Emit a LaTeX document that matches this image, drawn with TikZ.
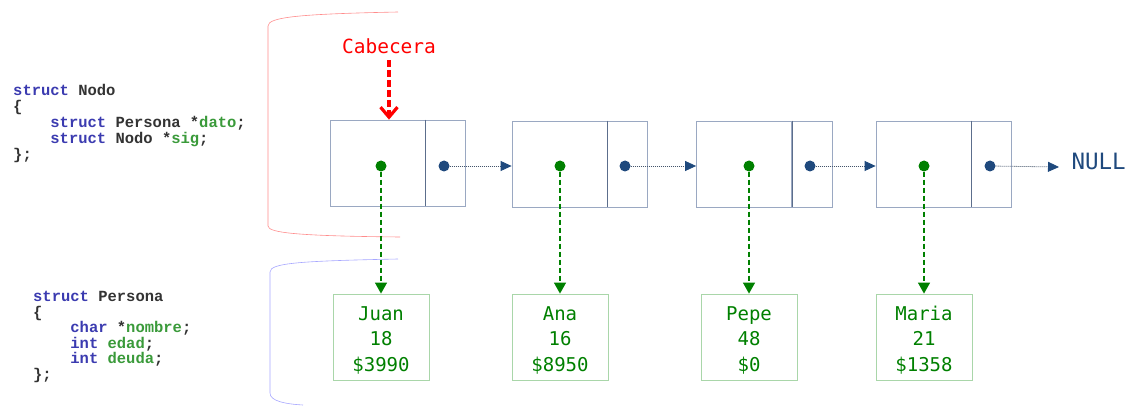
\documentclass[tikz,border=0pt]{standalone}
\usepackage{fontspec}
\setmonofont{DejaVu Sans Mono}
\newfontfamily\codefont{Liberation Mono}
\usetikzlibrary{arrows.meta,positioning}
\definecolor{boxedge}{HTML}{9AA8C2}
\definecolor{divider}{HTML}{5C6E8C}
\definecolor{navy}{HTML}{1F497D}
\definecolor{linkline}{HTML}{44546A}
\definecolor{datagreen}{HTML}{008000}
\definecolor{paleg}{HTML}{A9D6A9}
\definecolor{kwblue}{HTML}{3B3BB0}
\definecolor{fldgreen}{HTML}{3A9A3A}
\definecolor{codegray}{HTML}{333333}
\newcommand{\kw}[1]{\textcolor{kwblue}{#1}}
\newcommand{\fld}[1]{\textcolor{fldgreen}{#1}}
\newcommand{\ind}{\phantom{0000}}
\newcommand{\ficha}[3]{\raisebox{-3.5pt}[\height][\depth]{\begin{tabular}{@{}c@{}}#1\\#2\\#3\end{tabular}}}
\begin{document}
\begin{tikzpicture}[x=1pt,y=-1pt,
  datocell/.style={draw=boxedge, line width=0.8pt, minimum width=95pt, minimum height=86pt, inner sep=0pt},
  sigcell/.style={draw=boxedge, line width=0.8pt, minimum width=40pt, minimum height=86pt, inner sep=0pt},
  greendot/.style={circle, fill=datagreen, minimum size=11pt, inner sep=0pt},
  bluedot/.style={circle, fill=navy, minimum size=11pt, inner sep=0pt},
  persona/.style={draw=paleg, line width=0.8pt, minimum width=96pt, minimum height=86pt, inner sep=0pt,
    text=datagreen, font=\ttfamily\fontsize{19}{25.5}\selectfont},
  nextarrow/.style={linkline, line width=0.8pt, dash pattern=on 1pt off 1pt,
    -{Triangle[length=11pt,width=10pt,fill=navy,color=navy]}},
  datoarrow/.style={datagreen, line width=1.3pt, dash pattern=on 5pt off 3pt,
    -{Triangle[length=11pt,width=12pt]}},
  cabarrow/.style={red, line width=3.2pt, dash pattern=on 7pt off 3pt,
    -{Straight Barb[length=10pt,width=17pt]}},
  code/.style={anchor=north west, inner sep=0pt, align=left, text=codegray,
    font=\codefont\bfseries\fontsize{15.5}{16}\selectfont}]
\useasboundingbox (0,0) rectangle (1130,406);
% code of the two structs
\node[code] (nodo) at (13,84) {\kw{struct} Nodo\\
\{\\
\ind\kw{struct} Persona *\fld{dato};\\
\ind\kw{struct} Nodo *\fld{sig};\\
\};};
\node[code, font=\codefont\bfseries\fontsize{15.5}{15.6}\selectfont] (persona) at (33,291) {\kw{struct} Persona\\
\{\\
\ind\kw{char} *\fld{nombre};\\
\ind\kw{int} \fld{edad};\\
\ind\kw{int} \fld{deuda};\\
\};};
% brackets
\draw[red!45, line width=0.6pt] (398,12) .. controls (300,14) and (268,17) .. (268,26) -- (268,226)
  .. controls (268,233) and (300,236) .. (400,237);
\draw[blue!35, line width=0.6pt] (398,259) .. controls (300,261) and (270,263) .. (270,272) -- (270,393)
  .. controls (270,401) and (285,404) .. (303,405);
% list nodes
\node[datocell] (dato1) at (377.5,163) {};
\node[sigcell, right=0pt of dato1] (sig1) {};
\node[datocell] (dato2) at (559.5,164) {};
\node[sigcell, right=0pt of dato2] (sig2) {};
\node[datocell] (dato3) at (744,164) {};
\node[sigcell, right=0pt of dato3] (sig3) {};
\node[datocell] (dato4) at (923.5,164) {};
\node[sigcell, right=0pt of dato4] (sig4) {};
\foreach \i in {1,...,4}
  \draw[divider, line width=0.8pt] (sig\i.north west) -- (sig\i.south west);
\node[greendot] (g1) at (381,166) {};
\node[greendot] (g2) at (560,166) {};
\node[greendot] (g3) at (749,166) {};
\node[greendot] (g4) at (924,166) {};
\node[bluedot] (b1) at (444,166) {};
\node[bluedot] (b2) at (625,166) {};
\node[bluedot] (b3) at (810,166) {};
\node[bluedot] (b4) at (990,166) {};
% data of each person
\node[persona] (p1) at (381,337) {\ficha{Juan}{18}{\$3990}};
\node[persona] (p2) at (560,337) {\ficha{Ana}{16}{\$8950}};
\node[persona] (p3) at (749,337) {\ficha{Pepe}{48}{\$0}};
\node[persona] (p4) at (924,337) {\ficha{Maria}{21}{\$1358}};
% links
\draw[nextarrow] (b1) -- (b1 -| dato2.west);
\draw[nextarrow] (b2) -- (b2 -| dato3.west);
\draw[nextarrow] (b3) -- (b3 -| dato4.west);
\coordinate (fin) at (1059,167);
\draw[nextarrow] (b4) -- (fin);
\node[anchor=west, text=navy, font=\ttfamily\fontsize{22.5}{22}\selectfont] (null) at (1068,161) {NULL};
\foreach \i in {1,...,4}
  \draw[datoarrow] (g\i) -- (p\i.north);
% head pointer
\node[text=red, font=\ttfamily\fontsize{19.5}{20}\selectfont] (cab) at (389,46) {Cabecera};
\draw[cabarrow, shorten <=3pt] (cab.south) -- (cab.south |- dato1.north);
\end{tikzpicture}
\end{document}
